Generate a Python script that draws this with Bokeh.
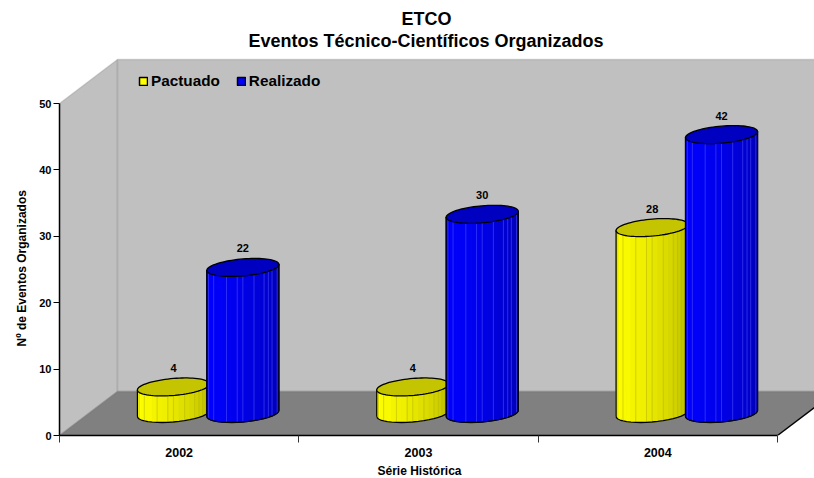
import numpy as np
from bokeh.plotting import figure
from bokeh.embed import file_html
from bokeh.resources import INLINE
from bokeh.models import (Range1d, FixedTicker, Legend, LegendItem, PolyAnnotation, ColumnDataSource, Title)
from bokeh.core.properties import value

years = ["2002", "2003", "2004"]
pactuado = [4, 4, 28]
realizado = [22, 30, 42]
y_ticks = [0, 10, 20, 30, 40, 50]

FONT = "Liberation Sans"
PX_X = 718 / 3      # pixels per category
PX_Y = 332 / 50     # pixels per event
DEPTH_X = 58 / PX_X
DEPTH_Y = 44 / PX_Y
OFFSET = 0.145
A, BX, BY = 34.0, 12.0, 9.0
SHADE = [1.0, 1.0, 1.0, .99, .98, .98, .96, .95, .94, .92, .90, .88, .86, .84, .82, .80, .77, .74, .70, .66]
STRIPES = [2, 4, 7, 9, 10, 12, 14, 15, 16, 18]

p = figure(width=814, height=478, output_backend="svg", toolbar_location=None,
           x_range=Range1d(0, 755 / PX_X), y_range=Range1d(0, 385 / PX_Y),
           frame_width=755, frame_height=385,
           min_border_left=59, min_border_right=0, min_border_top=50, min_border_bottom=0,
           background_fill_color=None, border_fill_color=None, outline_line_color=None)
p.grid.visible = False


def title(text, where, size, offset, standoff=0):
    t = Title(text=text, align="left", offset=offset, standoff=standoff, text_font=FONT,
              text_font_size=size, text_font_style="bold", text_color="#000000")
    p.add_layout(t, where)


title("Eventos Técnico-Científicos Organizados", "above", "18px", 189)
title("ETCO", "above", "18px", 342)

# walls and floor
XMAX = 3 + DEPTH_X
YTOP = 50 + DEPTH_Y
walls = [
    ([0, DEPTH_X, DEPTH_X, 0], [0, DEPTH_Y, YTOP, 50], "#C0C0C0", "#808080"),
    ([DEPTH_X, XMAX, XMAX, DEPTH_X], [DEPTH_Y, DEPTH_Y, YTOP, YTOP], "#C0C0C0", "#808080"),
    ([0, 3, XMAX, DEPTH_X], [0, 0, DEPTH_Y, DEPTH_Y], "#808080", "#666666"),
]
for xs, ys, fill, line in walls:
    p.add_layout(PolyAnnotation(xs=xs, ys=ys, fill_color=fill, fill_alpha=1, line_color=line,
                                line_width=1.5, level="underlay", editable=False))
p.line([3, XMAX], [0, DEPTH_Y], line_color="#000000", line_width=1.3)


def ring(t):
    return (A * np.cos(t) + BX * np.sin(t)) / PX_X, BY * np.sin(t) / PX_Y


def cylinder(cx, val, rgb, top_color, stripe_color):
    bx = cx + DEPTH_X / 2
    by = DEPTH_Y / 2
    t0 = np.arctan2(BX, A)
    ts = np.linspace(np.pi + t0, 2 * np.pi + t0, len(SHADE) + 1)
    ox, oy = ring(ts)
    xs, ys, cols = [], [], []
    for i, f in enumerate(SHADE):
        xs.append([bx + ox[i], bx + ox[i + 1], bx + ox[i + 1], bx + ox[i]])
        ys.append([by + oy[i], by + oy[i + 1], by + val + oy[i + 1], by + val + oy[i]])
        cols.append("#%02x%02x%02x" % tuple(int(c * f) for c in rgb))
    p.patches(xs, ys, fill_color=cols, line_color=cols, line_width=1)
    p.segment([bx + ox[i] for i in STRIPES], [by + oy[i] for i in STRIPES],
              [bx + ox[i] for i in STRIPES], [by + val + oy[i] for i in STRIPES],
              line_color=stripe_color, line_alpha=.55, line_width=1)
    sil_x = list(bx + ox) + [bx + ox[-1], bx + ox[0], bx + ox[0]]
    sil_y = list(by + oy) + [by + val + oy[-1], by + val + oy[0], by + oy[0]]
    p.line(sil_x, sil_y, line_color="#000000", line_width=1.3)
    tt = np.linspace(0, 2 * np.pi, 80)
    ex, ey = ring(tt)
    p.patch(bx + ex, by + val + ey, fill_color=top_color, line_color="#000000", line_width=1.3)


for i, (a, b) in enumerate(zip(pactuado, realizado)):
    cylinder(i + .5 - OFFSET, a, (255, 255, 0), "#C4C400", "#B8B800")
    cylinder(i + .5 + OFFSET, b, (0, 0, 255), "#0000C0", "#5050FF")

# value labels
lab_x = [i + .5 - OFFSET + DEPTH_X / 2 for i in range(3)] + [i + .5 + OFFSET + DEPTH_X / 2 for i in range(3)]
lab_v = pactuado + realizado
src = ColumnDataSource(dict(x=lab_x, y=[v + DEPTH_Y / 2 for v in lab_v], t=[str(v) for v in lab_v]))
p.text("x", "y", "t", source=src, text_font=value(FONT), text_font_size="11px", text_font_style="bold",
       text_align="center", text_baseline="middle", y_offset=-19, text_color="#000000")

# axes
ax = p.xaxis[0]
ax.bounds = (0, 3)
ax.ticker = FixedTicker(ticks=[.5, 1.5, 2.5], minor_ticks=[0, 1, 2, 3])
ax.major_label_overrides = {.5: years[0], 1.5: years[1], 2.5: years[2]}
ax.major_tick_line_color = None
ax.major_tick_in = 0
ax.major_tick_out = 7
ax.minor_tick_in = 0
ax.minor_tick_out = 7
ax.minor_tick_line_color = "#333333"
ax.axis_line_color = "#000000"
ax.axis_line_width = 1.5
ax.major_label_text_font = FONT
ax.major_label_text_font_size = "12.5px"
ax.major_label_text_font_style = "bold"
ax.major_label_text_color = "#000000"
ax.major_label_standoff = 5

ay = p.yaxis[0]
ay.bounds = (0, 50)
ay.ticker = FixedTicker(ticks=y_ticks)
ay.minor_tick_line_color = None
ay.major_tick_in = 0
ay.major_tick_out = 6
ay.major_tick_line_color = "#000000"
ay.axis_line_color = "#000000"
ay.axis_line_width = 1.5
ay.major_label_text_font = FONT
ay.major_label_text_font_size = "11px"
ay.major_label_text_font_style = "bold"
ay.major_label_text_color = "#000000"
ay.major_label_standoff = 2

title("Série Histórica", "below", "12px", 318, 5)
title("Nº de Eventos Organizados", "left", "12px", 89, 15)

# legend
nan = float("nan")
r1 = p.quad([nan], [nan], [nan], [nan], fill_color="#FFFF00", line_color="#000000", line_width=1.5)
r2 = p.quad([nan], [nan], [nan], [nan], fill_color="#0000FF", line_color="#000000", line_width=1.5)
leg = Legend(items=[LegendItem(label="Pactuado", renderers=[r1]), LegendItem(label="Realizado", renderers=[r2])],
             orientation="horizontal", location=(79, 345), padding=0, margin=0, spacing=16,
             glyph_width=10, glyph_height=10, label_standoff=3,
             label_text_font=FONT, label_text_font_size="15.3px", label_text_font_style="bold",
             label_text_color="#000000", background_fill_alpha=0, border_line_alpha=0)
p.add_layout(leg)

open("out.html", "w").write(file_html(p, INLINE))
